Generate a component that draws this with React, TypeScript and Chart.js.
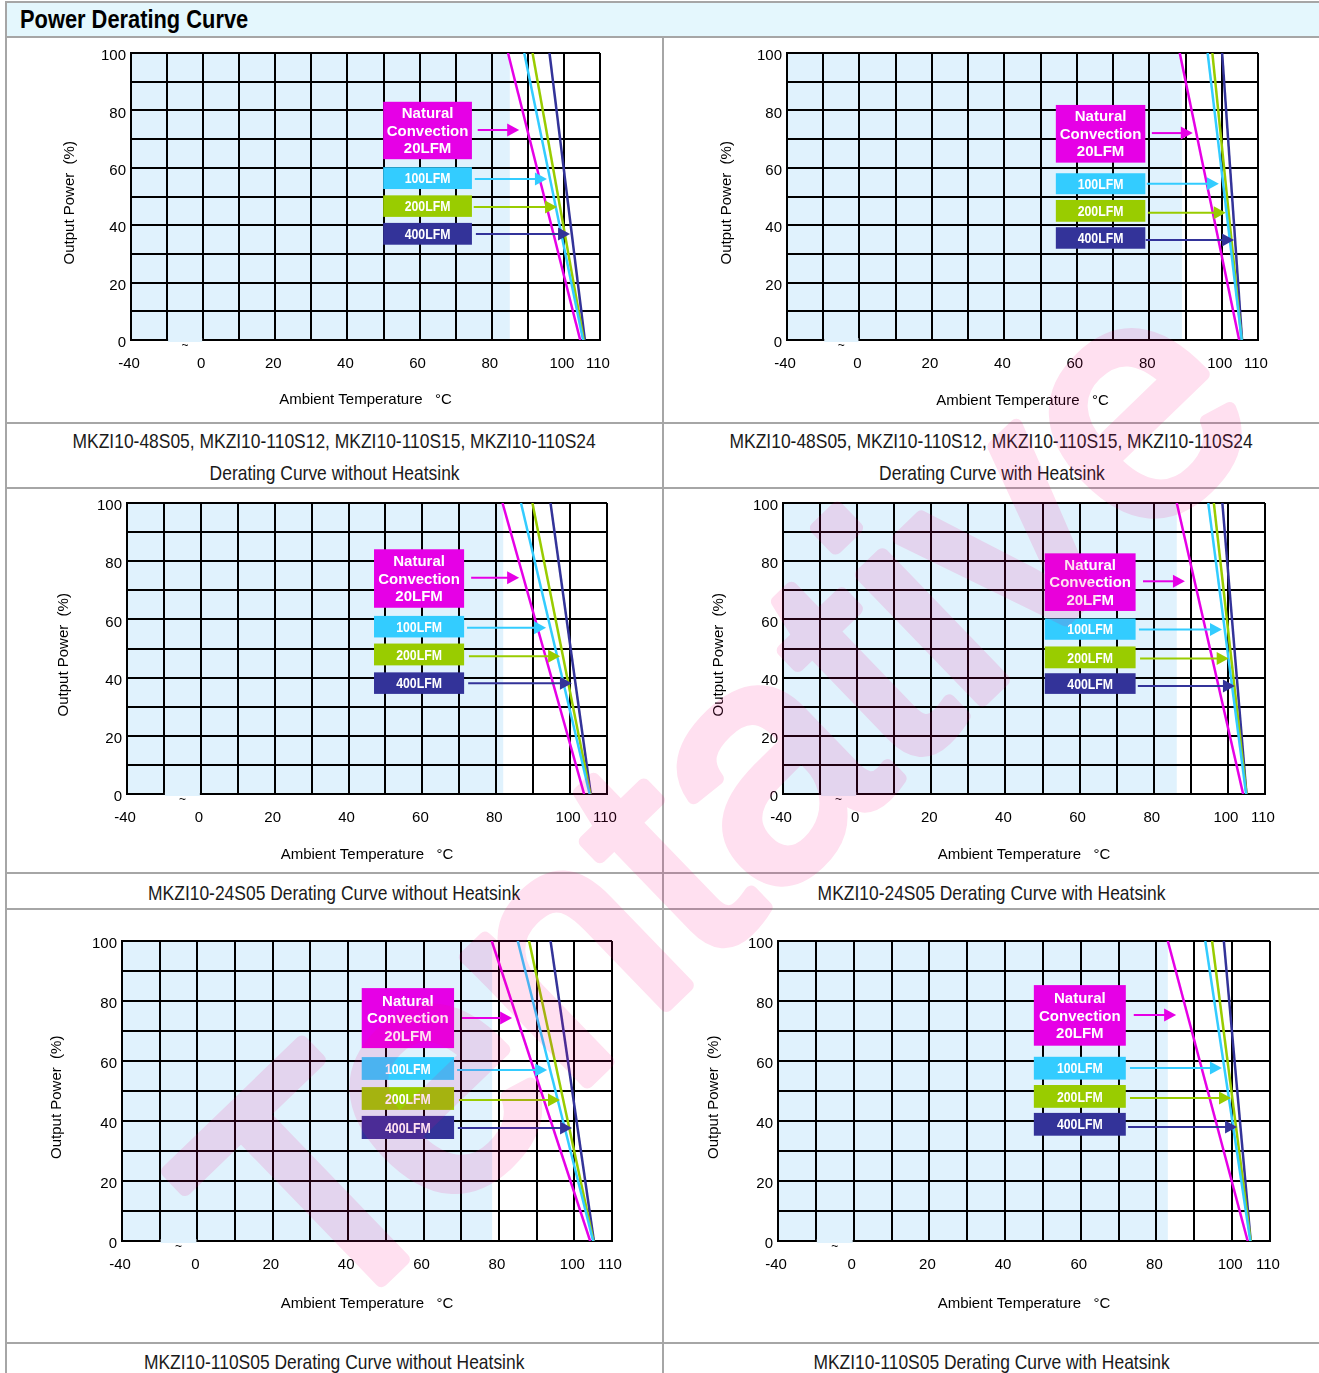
import React, { useEffect, useRef } from 'react';
import { Chart, registerables } from 'chart.js';

Chart.register(...registerables);

const FONT = '"Liberation Sans", Arial, Helvetica, sans-serif';
// condensed look of the narrow labels, produced by squeezing the regular face
const NARROW_SCALE = 0.82;

// Temperature axis: the first column stands for -40 °C, the second one is the axis break.
const X_MIN = -20;
const X_MAX = 110;
const X_TICK_VALUES = [-20, 0, 20, 40, 60, 80, 100, 110];
const X_TICK_LABELS = ['-40', '0', '20', '40', '60', '80', '100', '110'];
const Y_TICK_VALUES = [0, 20, 40, 60, 80, 100];

const SERIES_LABELS = ['Natural Convection 20LFM', '100LFM', '200LFM', '400LFM'];
const BOX_LINES = [['Natural', 'Convection', '20LFM'], ['100LFM'], ['200LFM'], ['400LFM']];
const SERIES_COLORS = ['#e600e6', '#33ccff', '#99cc00', '#333399'];

// Output power at both ends of every derating line (%).
const FULL_LOAD = 100;
const NO_LOAD = 0;

// Ambient temperature (°C) where derating starts (100 %) and where output reaches 0 %.
const C1_DERATE_START = [84.5, 89.0, 91.3, 96.0];
const C1_DERATE_END = [104.5, 105.3, 105.5, 105.8];
const C2_DERATE_START = [88.4, 96.1, 97.4, 100.1];
const C2_DERATE_END = [104.8, 105.5, 105.5, 105.6];
const C3_DERATE_START = [81.7, 86.7, 89.8, 94.7];
const C3_DERATE_END = [103.8, 105.3, 105.5, 105.6];
const C4_DERATE_START = [86.2, 94.7, 96.2, 98.5];
const C4_DERATE_END = [104.1, 104.9, 105.0, 105.0];
const C5_DERATE_START = [78.1, 85.0, 88.0, 93.7];
const C5_DERATE_END = [104.2, 105.0, 105.1, 105.2];
const C6_DERATE_START = [83.0, 92.9, 94.7, 97.8];
const C6_DERATE_END = [104.1, 104.8, 104.9, 104.9];

const SHADE = '#e0f2fd';
const BORDER_GRAY = '#a6a6a6';

type Callouts = {
  boxX: [number, number];
  boxY: [number, number][];
  arrowY: number[];
  arrowX: [number, number][];
};

type Panel = {
  cell: [number, number, number, number];
  plot: [number, number, number, number];
  xTitleY: number;
  yTitleX: number;
  shadeTo: number;
  callouts: Callouts;
  start: number[];
  end: number[];
};

const PANELS: Panel[] = [
  {
    cell: [7, 38, 662, 422], plot: [131, 53, 600, 340], xTitleY: 400, yTitleX: 70, shadeTo: 85,
    start: C1_DERATE_START, end: C1_DERATE_END,
    callouts: {
      boxX: [49.9, 74.5],
      boxY: [[83.0, 63.0], [60.2, 52.6], [50.4, 42.9], [40.8, 33.2]],
      arrowY: [73.2, 56.1, 46.3, 36.9],
      arrowX: [[76.1, 87.6], [75.3, 95.3], [75.0, 98.1], [75.6, 101.7]],
    },
  },
  {
    cell: [665, 38, 1319, 422], plot: [787, 53, 1258, 340], xTitleY: 401, yTitleX: 727, shadeTo: 89,
    start: C2_DERATE_START, end: C2_DERATE_END,
    callouts: {
      boxX: [54.2, 78.9],
      boxY: [[81.9, 61.8], [58.1, 50.8], [48.8, 41.2], [39.3, 31.8]],
      arrowY: [72.1, 54.4, 44.3, 34.8],
      arrowX: [[80.7, 92.0], [79.3, 99.2], [79.6, 101.1], [79.0, 103.4]],
    },
  },
  {
    cell: [7, 489, 662, 872], plot: [127, 500, 607, 794], xTitleY: 855, yTitleX: 64, shadeTo: 81.9,
    start: C3_DERATE_START, end: C3_DERATE_END,
    callouts: {
      boxX: [46.9, 71.3],
      boxY: [[84.1, 64.0], [61.2, 53.8], [51.7, 44.2], [41.8, 34.4]],
      arrowY: [74.3, 57.1, 47.3, 38.1],
      arrowX: [[73.2, 86.2], [72.1, 93.5], [72.6, 97.3], [72.4, 100.5]],
    },
  },
  {
    cell: [665, 489, 1319, 872], plot: [783, 500, 1265, 794], xTitleY: 855, yTitleX: 719, shadeTo: 86.2,
    start: C4_DERATE_START, end: C4_DERATE_END,
    callouts: {
      boxX: [50.6, 75.1],
      boxY: [[82.7, 62.9], [60.3, 53.0], [50.7, 43.2], [41.5, 34.4]],
      arrowY: [73.1, 56.5, 46.6, 37.1],
      arrowX: [[77.1, 88.4], [76.0, 98.4], [76.3, 100.2], [75.7, 101.9]],
    },
  },
  {
    cell: [7, 910, 662, 1342], plot: [122, 941, 612, 1241], xTitleY: 1304, yTitleX: 57, shadeTo: 78.2,
    start: C5_DERATE_START, end: C5_DERATE_END,
    callouts: {
      boxX: [43.6, 68.1],
      boxY: [[84.3, 64.3], [61.3, 53.7], [51.3, 43.7], [41.7, 34.0]],
      arrowY: [74.3, 57.0, 47.0, 37.7],
      arrowX: [[70.2, 83.5], [68.9, 92.8], [69.4, 96.2], [69.1, 99.4]],
    },
  },
  {
    cell: [665, 910, 1319, 1342], plot: [778, 941, 1270, 1241], xTitleY: 1304, yTitleX: 714, shadeTo: 83.0,
    start: C6_DERATE_START, end: C6_DERATE_END,
    callouts: {
      boxX: [47.6, 71.9],
      boxY: [[85.3, 65.1], [61.4, 53.8], [52.0, 44.4], [42.7, 35.1]],
      arrowY: [75.3, 57.7, 47.7, 38.0],
      arrowX: [[74.0, 85.2], [73.0, 97.3], [73.0, 99.7], [72.5, 101.3]],
    },
  },
];

function panelPlugin(p: Panel) {
  return {
    id: 'deratingPanel',
    beforeDraw(chart: any) {
      const { ctx, chartArea: a, scales } = chart;
      const x = scales.x;
      ctx.save();
      ctx.fillStyle = SHADE;
      ctx.fillRect(a.left, a.top, x.getPixelForValue(p.shadeTo) - a.left, a.bottom - a.top);
      ctx.restore();
    },
    afterDraw(chart: any) {
      const { ctx, chartArea: a, scales } = chart;
      const x = scales.x;
      const y = scales.y;
      ctx.save();
      // axis break between -40 and 0
      const b0 = x.getPixelForValue(-10);
      const b1 = x.getPixelForValue(0);
      ctx.fillStyle = SHADE;
      ctx.fillRect(b0 + 1, a.bottom - 2, b1 - b0 - 2, 4);
      ctx.fillStyle = '#000';
      ctx.font = `12px ${FONT}`;
      ctx.textAlign = 'center';
      ctx.textBaseline = 'middle';
      ctx.fillText('~', x.getPixelForValue(-5), a.bottom + 6);

      // airflow callouts
      const c = p.callouts;
      const bx0 = x.getPixelForValue(c.boxX[0]);
      const bx1 = x.getPixelForValue(c.boxX[1]);
      BOX_LINES.forEach((lines, i) => {
        const color = SERIES_COLORS[i];
        const top = y.getPixelForValue(c.boxY[i][0]);
        const bot = y.getPixelForValue(c.boxY[i][1]);
        ctx.fillStyle = color;
        ctx.fillRect(bx0, top, bx1 - bx0, bot - top);
        ctx.fillStyle = '#ffffff';
        ctx.font = `bold 15px ${FONT}`;
        ctx.textAlign = 'center';
        ctx.textBaseline = 'middle';
        const cy = (top + bot) / 2;
        const sx = i === 0 ? 1 : NARROW_SCALE;
        lines.forEach((t, k) => {
          ctx.save();
          ctx.translate((bx0 + bx1) / 2, cy + (k - (lines.length - 1) / 2) * 17.5 + 1);
          ctx.scale(sx, 1);
          ctx.fillText(t, 0, 0);
          ctx.restore();
        });

        const ay = y.getPixelForValue(c.arrowY[i]);
        const ax0 = x.getPixelForValue(c.arrowX[i][0]);
        const ax1 = x.getPixelForValue(c.arrowX[i][1]);
        ctx.strokeStyle = color;
        ctx.lineWidth = 2;
        ctx.beginPath();
        ctx.moveTo(ax0, ay);
        ctx.lineTo(ax1 - 10, ay);
        ctx.stroke();
        ctx.fillStyle = color;
        ctx.beginPath();
        ctx.moveTo(ax1, ay);
        ctx.lineTo(ax1 - 12, ay - 6.5);
        ctx.lineTo(ax1 - 12, ay + 6.5);
        ctx.closePath();
        ctx.fill();
      });
      ctx.restore();
    },
  };
}

function DeratingChart({ p }: { p: Panel }) {
  const ref = useRef<HTMLCanvasElement>(null);
  const [cl, ct, cr, cb] = p.cell;
  const [pl, pt, pr, pb] = p.plot;
  const w = cr - cl;
  const h = cb - ct;

  useEffect(() => {
    const canvas = ref.current;
    if (!canvas) return;
    const tickFont = { family: FONT, size: 15 };
    const chart = new Chart(canvas, {
      type: 'line',
      data: {
        datasets: SERIES_LABELS.map((label, i) => ({
          label,
          data: [
            { x: p.start[i], y: FULL_LOAD },
            { x: p.end[i], y: NO_LOAD },
          ],
          borderColor: SERIES_COLORS[i],
          backgroundColor: SERIES_COLORS[i],
          borderWidth: 2.5,
          pointRadius: 0,
          tension: 0,
          fill: false,
        })),
      },
      options: {
        responsive: false,
        animation: false,
        events: [],
        layout: { padding: { top: pt - ct, right: cr - pr, left: 0, bottom: 0 } },
        plugins: { legend: { display: false }, tooltip: { enabled: false } },
        scales: {
          x: {
            type: 'linear',
            min: X_MIN,
            max: X_MAX,
            ticks: {
              stepSize: 10,
              autoSkip: false,
              maxRotation: 0,
              padding: 15,
              labelOffset: -2,
              color: '#000',
              font: tickFont,
              callback: (v: any) => {
                const k = X_TICK_VALUES.indexOf(Math.round(Number(v)));
                return k >= 0 ? X_TICK_LABELS[k] : '';
              },
            },
            grid: { color: '#000', lineWidth: 2, drawTicks: false },
            border: { color: '#000', width: 2 },
            title: {
              display: true,
              text: 'Ambient Temperature   °C',
              color: '#000',
              font: tickFont,
              padding: { top: 0, bottom: cb - p.xTitleY - 9 },
            },
            afterFit: (s: any) => {
              s.height = cb - pb;
            },
          },
          y: {
            type: 'linear',
            min: 0,
            max: 100,
            ticks: {
              stepSize: 10,
              padding: 5,
              labelOffset: 3,
              color: '#000',
              font: tickFont,
              callback: (v: any) => (Y_TICK_VALUES.includes(Math.round(Number(v))) ? String(Math.round(Number(v))) : ''),
            },
            grid: { color: '#000', lineWidth: 2, drawTicks: false },
            border: { color: '#000', width: 2 },
            title: {
              display: true,
              text: 'Output Power  (%)   ',
              color: '#000',
              font: tickFont,
              padding: { top: p.yTitleX - cl - 9, bottom: 0 },
            },
            afterFit: (s: any) => {
              s.width = pl - cl;
            },
          },
        },
      },
      plugins: [panelPlugin(p)],
    } as any);
    return () => chart.destroy();
  }, []);

  return (
    <canvas
      ref={ref}
      width={w}
      height={h}
      style={{ position: 'absolute', left: cl, top: ct, width: w, height: h }}
    />
  );
}

const CAPTIONS: { lines: string[]; top: number; col: number }[] = [
  { lines: ['MKZI10-48S05, MKZI10-110S12, MKZI10-110S15, MKZI10-110S24', 'Derating Curve without Heatsink'], top: 425, col: 0 },
  { lines: ['MKZI10-48S05, MKZI10-110S12, MKZI10-110S15, MKZI10-110S24', 'Derating Curve with Heatsink'], top: 425, col: 1 },
  { lines: ['MKZI10-24S05 Derating Curve without Heatsink'], top: 877, col: 0 },
  { lines: ['MKZI10-24S05 Derating Curve with Heatsink'], top: 877, col: 1 },
  { lines: ['MKZI10-110S05 Derating Curve without Heatsink'], top: 1346, col: 0 },
  { lines: ['MKZI10-110S05 Derating Curve with Heatsink'], top: 1346, col: 1 },
];

const H_LINES = [36, 422, 487, 872, 908, 1342];

export default function App() {
  const line = (style: React.CSSProperties) => (
    <div style={{ position: 'absolute', background: BORDER_GRAY, ...style }} />
  );
  return (
    <div style={{ position: 'absolute', left: 0, top: 0, width: 1319, height: 1373, overflow: 'hidden', background: '#fff' }}>
      <div style={{ position: 'absolute', left: 7, top: 3, width: 1312, height: 33, background: '#e4f7fd' }} />
      <div
        style={{
          position: 'absolute', left: 20, top: 3, height: 33, lineHeight: '33px',
          fontFamily: FONT, fontWeight: 'bold', fontSize: 26, color: '#000', whiteSpace: 'nowrap',
          transform: 'scaleX(0.84)', transformOrigin: 'left center',
        }}
      >
        Power Derating Curve
      </div>
      {line({ left: 5, top: 1, width: 1314, height: 2 })}
      {line({ left: 5, top: 1, width: 2, height: 1372 })}
      {H_LINES.map((y) => (
        <React.Fragment key={y}>{line({ left: 5, top: y, width: 1314, height: 2 })}</React.Fragment>
      ))}
      {line({ left: 662, top: 38, width: 2, height: 1335 })}

      {CAPTIONS.map((c, i) => (
        <div
          key={i}
          style={{
            position: 'absolute', left: c.col === 0 ? 7 : 664, top: c.top, width: 655,
            textAlign: 'center', fontFamily: FONT, fontSize: 21, lineHeight: '32px', color: '#1a1a1a', whiteSpace: 'nowrap',
          }}
        >
          {c.lines.map((t, k) => (
            <div key={k}>
              <span style={{ display: 'inline-block', transform: 'scaleX(0.83)', transformOrigin: 'center' }}>{t}</span>
            </div>
          ))}
        </div>
      ))}

      {PANELS.map((p, i) => (
        <DeratingChart key={i} p={p} />
      ))}

      <svg width={1319} height={1373} style={{ position: 'absolute', left: 0, top: 0, pointerEvents: 'none' }}>
        <g opacity={0.12}>
          <text
            x={320}
            y={1340}
            transform="rotate(-44 320 1340)"
            fontFamily={FONT}
            fontSize={330}
            fill="#ff0080"
            stroke="#ff0080"
            strokeWidth={13}
            strokeLinejoin="round"
          >
            Tentative
          </text>
        </g>
      </svg>
    </div>
  );
}
